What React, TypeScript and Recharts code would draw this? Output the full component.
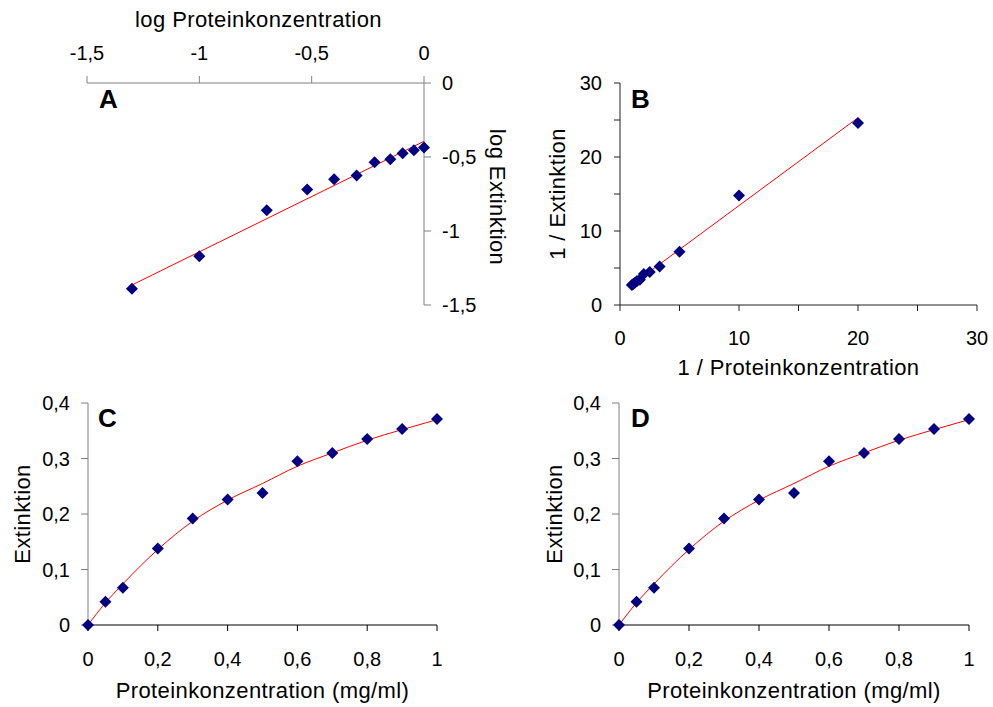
import React from 'react';
import { ComposedChart, XAxis, YAxis, Scatter, Line, Label } from 'recharts';

// Panel A: log-log
const logConc = [-1.3, -1.0, -0.7, -0.52, -0.4, -0.3, -0.22, -0.15, -0.095, -0.045, 0];
const logExt = [-1.39, -1.17, -0.86, -0.72, -0.65, -0.625, -0.535, -0.515, -0.475, -0.455, -0.435];
const logFitX = [-1.3, 0];
const logFitY = [-1.365, -0.394];
const aTicksX = [-1.5, -1, -0.5, 0];
const aTicksY = [0, -0.5, -1, -1.5];

// Panel B: double reciprocal
const invConc = [20, 10, 5, 3.33, 2.5, 2, 1.67, 1.43, 1.25, 1.11, 1];
const invExt = [24.6, 14.8, 7.2, 5.2, 4.45, 4.2, 3.4, 3.25, 3.0, 2.85, 2.7];
const invFitX = [1, 20];
const invFitY = [2.75, 25.3];
const bTicks = [0, 5, 10, 15, 20, 25, 30];
const bLabeled = [0, 10, 20, 30];

// Panels C & D: direct plot
const conc = [0, 0.05, 0.1, 0.2, 0.3, 0.4, 0.5, 0.6, 0.7, 0.8, 0.9, 1];
const ext = [0, 0.042, 0.067, 0.138, 0.192, 0.226, 0.238, 0.295, 0.31, 0.335, 0.353, 0.371];
const fitExt = [0, 0.04, 0.074, 0.136, 0.187, 0.225, 0.255, 0.286, 0.31, 0.333, 0.352, 0.37];
const cdTicksX = [0, 0.2, 0.4, 0.6, 0.8, 1];
const cdTicksY = [0, 0.1, 0.2, 0.3, 0.4];

const zip = (xs: number[], ys: number[]) => xs.map((x, i) => ({ x, y: ys[i] }));

const FONT = '"Liberation Sans", Arial, sans-serif';
const TICK_FS = 20;
const TITLE_FS = 22;
const comma = (v: number) => String(v).replace('.', ',');

const Diamond = (p: any) => {
  const { cx, cy } = p;
  if (cx == null || cy == null) return null;
  const r = 6;
  return <path d={`M${cx},${cy - r}L${cx + r},${cy}L${cx},${cy + r}L${cx - r},${cy}Z`} fill="#000080" />;
};

const tickStyle = { fill: '#000', fontSize: TICK_FS, fontFamily: FONT };
const titleStyle: any = { fill: '#000', fontSize: TITLE_FS, fontFamily: FONT, letterSpacing: 0.4 };

const PanelLetter = ({ text, left, top }: { text: string; left: number; top: number }) => (
  <div style={{ position: 'absolute', left, top, fontFamily: FONT, fontWeight: 'bold', fontSize: 26, lineHeight: '26px', color: '#000' }}>{text}</div>
);

function PanelA() {
  return (
    <div style={{ position: 'absolute', left: 0, top: 0 }}>
      <ComposedChart width={524} height={330} margin={{ top: 0, right: 0, bottom: 25, left: 87 }}>
        <XAxis
          xAxisId="a"
          dataKey="x"
          type="number"
          orientation="top"
          domain={[-1.5, 0]}
          ticks={aTicksX}
          interval={0}
          height={83}
          tickSize={7}
          tickMargin={16}
          tickFormatter={comma}
          stroke="#808080"
          tick={tickStyle}
        >
          <Label value="log Proteinkonzentration" position="insideTop" offset={11} fontSize={TITLE_FS} style={titleStyle} dx={3} />
        </XAxis>
        <YAxis
          yAxisId="a"
          type="number"
          orientation="right"
          domain={[-1.5, 0]}
          ticks={aTicksY}
          interval={0}
          width={100}
          tickSize={7}
          tickMargin={11}
          tickFormatter={comma}
          stroke="#808080"
          tick={{ ...tickStyle, textAnchor: 'start' }}
        >
          <Label value="log Extinktion" angle={90} position="insideRight" offset={26} dy={3} fontSize={TITLE_FS} style={{ ...titleStyle, textAnchor: 'middle' }} />
        </YAxis>
        <Line xAxisId="a" yAxisId="a" data={zip(logFitX, logFitY)} dataKey="y" stroke="#ff0000" strokeWidth={1} dot={false} isAnimationActive={false} />
        <Scatter xAxisId="a" yAxisId="a" data={zip(logConc, logExt)} dataKey="y" shape={Diamond} isAnimationActive={false} />
      </ComposedChart>
    </div>
  );
}

function PanelB() {
  return (
    <div style={{ position: 'absolute', left: 500, top: 0 }}>
      <ComposedChart width={493} height={400} margin={{ top: 83, right: 16, bottom: 0, left: 0 }}>
        <XAxis
          xAxisId="b"
          dataKey="x"
          type="number"
          domain={[0, 30]}
          ticks={bTicks}
          interval={0}
          height={95}
          tickSize={6}
          tickMargin={20}
          tickFormatter={(v: number) => (bLabeled.includes(v) ? String(v) : '')}
          stroke="#202020"
          tick={tickStyle}
        >
          <Label value="1 / Proteinkonzentration" position="insideBottom" offset={25} fontSize={TITLE_FS} style={titleStyle} />
        </XAxis>
        <YAxis
          yAxisId="b"
          type="number"
          domain={[0, 30]}
          ticks={bTicks}
          interval={0}
          width={120}
          tickSize={6}
          tickMargin={12}
          tickFormatter={(v: number) => (bLabeled.includes(v) ? String(v) : '')}
          stroke="#202020"
          tick={tickStyle}
        >
          <Label value="1 / Extinktion" angle={-90} position="insideLeft" offset={57} fontSize={TITLE_FS} style={{ ...titleStyle, textAnchor: 'middle' }} />
        </YAxis>
        <Line xAxisId="b" yAxisId="b" data={zip(invFitX, invFitY)} dataKey="y" stroke="#ff0000" strokeWidth={1} dot={false} isAnimationActive={false} />
        <Scatter xAxisId="b" yAxisId="b" data={zip(invConc, invExt)} dataKey="y" shape={Diamond} isAnimationActive={false} />
      </ComposedChart>
    </div>
  );
}

function PanelCD({ left, width, yAxisWidth, marginRight, titleOffset }: { left: number; width: number; yAxisWidth: number; marginRight: number; titleOffset: number }) {
  return (
    <div style={{ position: 'absolute', left, top: 360 }}>
      <ComposedChart width={width} height={347} margin={{ top: 43, right: marginRight, bottom: 0, left: 0 }}>
        <XAxis
          xAxisId="c"
          dataKey="x"
          type="number"
          domain={[0, 1]}
          ticks={cdTicksX}
          interval={0}
          height={82}
          tickSize={6}
          tickMargin={21}
          tickFormatter={comma}
          stroke="#000"
          tick={tickStyle}
        >
          <Label value="Proteinkonzentration (mg/ml)" position="insideBottom" offset={9} fontSize={TITLE_FS} style={titleStyle} />
        </XAxis>
        <YAxis
          yAxisId="c"
          type="number"
          domain={[0, 0.4]}
          ticks={cdTicksY}
          interval={0}
          width={yAxisWidth}
          tickSize={7}
          tickMargin={11}
          tickFormatter={comma}
          stroke="#808080"
          tick={tickStyle}
        >
          <Label value="Extinktion" angle={-90} position="insideLeft" offset={titleOffset} fontSize={TITLE_FS} style={{ ...titleStyle, textAnchor: 'middle' }} />
        </YAxis>
        <Line xAxisId="c" yAxisId="c" type="monotone" data={zip(conc, fitExt)} dataKey="y" stroke="#ff0000" strokeWidth={1} dot={false} isAnimationActive={false} />
        <Scatter xAxisId="c" yAxisId="c" data={zip(conc, ext)} dataKey="y" shape={Diamond} isAnimationActive={false} />
      </ComposedChart>
    </div>
  );
}

export default function App() {
  return (
    <div style={{ position: 'absolute', left: 0, top: 0, width: 993, height: 707, background: '#fff', overflow: 'hidden' }}>
      <PanelA />
      <PanelB />
      <PanelCD left={0} width={480} yAxisWidth={88} marginRight={43} titleOffset={22} />
      <PanelCD left={530} width={463} yAxisWidth={89} marginRight={24} titleOffset={24} />
      <PanelLetter text="A" left={99} top={86} />
      <PanelLetter text="B" left={631} top={86} />
      <PanelLetter text="C" left={98} top={405} />
      <PanelLetter text="D" left={631} top={405} />
    </div>
  );
}
